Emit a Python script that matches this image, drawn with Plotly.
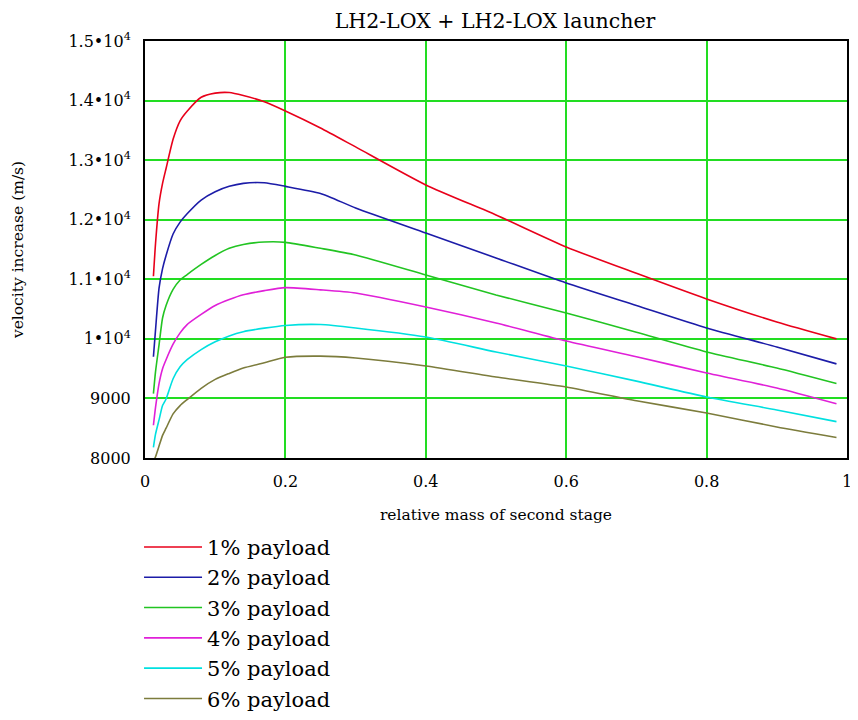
import plotly.graph_objects as go

# relative mass of second stage
mass_ratio = [0.012, 0.015, 0.02, 0.025, 0.03, 0.04, 0.05, 0.06, 0.08, 0.10, 0.12, 0.14,
              0.17, 0.20, 0.25, 0.30, 0.40, 0.50, 0.60, 0.70, 0.80, 0.90, 0.985]

# velocity increase (m/s) for each payload fraction
payload_1 = [11050, 11600, 12270, 12610, 12860, 13350, 13660, 13820, 14055, 14125, 14135, 14085,
             13980, 13826, 13540, 13222, 12584, 12080, 11543, 11100, 10670, 10283, 10000]
payload_2 = [9700, 10150, 10850, 11180, 11400, 11760, 11960, 12100, 12330, 12470, 12560, 12610,
             12620, 12560, 12440, 12198, 11778, 11358, 10938, 10560, 10183, 9864, 9580]
payload_3 = [9080, 9450, 9900, 10350, 10560, 10830, 10989, 11080, 11250, 11400, 11520, 11585,
             11625, 11620, 11520, 11408, 11072, 10737, 10434, 10110, 9780, 9511, 9250]
payload_4 = [8550, 8850, 9250, 9500, 9650, 9910, 10100, 10240, 10410, 10560, 10660, 10740,
             10810, 10860, 10823, 10770, 10535, 10267, 9964, 9700, 9427, 9175, 8910]
payload_5 = [8180, 8400, 8640, 8880, 8990, 9330, 9530, 9650, 9820, 9950, 10050, 10120,
             10180, 10225, 10240, 10183, 10031, 9780, 9545, 9290, 9024, 8806, 8610]
payload_6 = [7940, 8020, 8200, 8380, 8500, 8740, 8880, 8980, 9170, 9320, 9420, 9510,
             9600, 9690, 9710, 9679, 9545, 9360, 9192, 8960, 8755, 8521, 8345]

series_names = ["1% payload", "2% payload", "3% payload", "4% payload", "5% payload", "6% payload"]
series_values = [payload_1, payload_2, payload_3, payload_4, payload_5, payload_6]
series_colors = ["#e8001a", "#1c1ca8", "#22c422", "#e020d8", "#00e0e0", "#7c7c3c"]

x_tickvals = [0, 0.2, 0.4, 0.6, 0.8, 1]
x_ticktext = ["0", "0.2", "0.4", "0.6", "0.8", "1"]
y_tickvals = [8000, 9000, 10000, 11000, 12000, 13000, 14000, 15000]
y_ticktext = ["8000", "9000", "1•10<sup>4</sup>", "1.1•10<sup>4</sup>", "1.2•10<sup>4</sup>",
              "1.3•10<sup>4</sup>", "1.4•10<sup>4</sup>", "1.5•10<sup>4</sup>"]

FONT = "DejaVu Serif"

fig = go.Figure()
for name, vals, col in zip(series_names, series_values, series_colors):
    fig.add_trace(go.Scatter(x=mass_ratio, y=vals, mode="lines", name=name,
                             line=dict(color=col, width=1.6, shape="spline", smoothing=0.6)))

# the page body adds an 8px margin, so the figure is 850x712 and offset accordingly
fig.update_layout(
    width=850, height=712,
    paper_bgcolor="white", plot_bgcolor="white",
    margin=dict(l=137, r=11, t=33, b=262, autoexpand=False),
    title=dict(text="LH2-LOX + LH2-LOX launcher", x=0.573, xanchor="center", y=0.982,
               yanchor="middle", font=dict(family=FONT, size=20.5, color="black")),
    font=dict(family=FONT, color="black"),
    showlegend=True,
    legend=dict(x=-0.0085, xanchor="left", y=-0.165, yanchor="top",
                font=dict(family=FONT, size=21, color="black"),
                itemwidth=58, tracegroupgap=0, bgcolor="rgba(0,0,0,0)"),
)
fig.update_xaxes(range=[0, 1], tickvals=x_tickvals, ticktext=x_ticktext,
                 showgrid=True, gridcolor="#22dd22", gridwidth=2,
                 showline=True, linecolor="black", linewidth=2, mirror=True,
                 zeroline=False, ticks="", tickfont=dict(family=FONT, size=16),
                 ticklabelstandoff=8,
                 title=dict(text="relative mass of second stage", font=dict(family=FONT, size=15.5), standoff=19))
fig.update_yaxes(range=[8000, 15000], tickvals=y_tickvals, ticktext=y_ticktext,
                 showgrid=True, gridcolor="#22dd22", gridwidth=2,
                 showline=True, linecolor="black", linewidth=2, mirror=True,
                 zeroline=False, ticks="", tickfont=dict(family=FONT, size=16),
                 ticklabelstandoff=9,
                 title=dict(text="velocity increase (m/s)", font=dict(family=FONT, size=15.5), standoff=41))

fig.write_html("out.html")
